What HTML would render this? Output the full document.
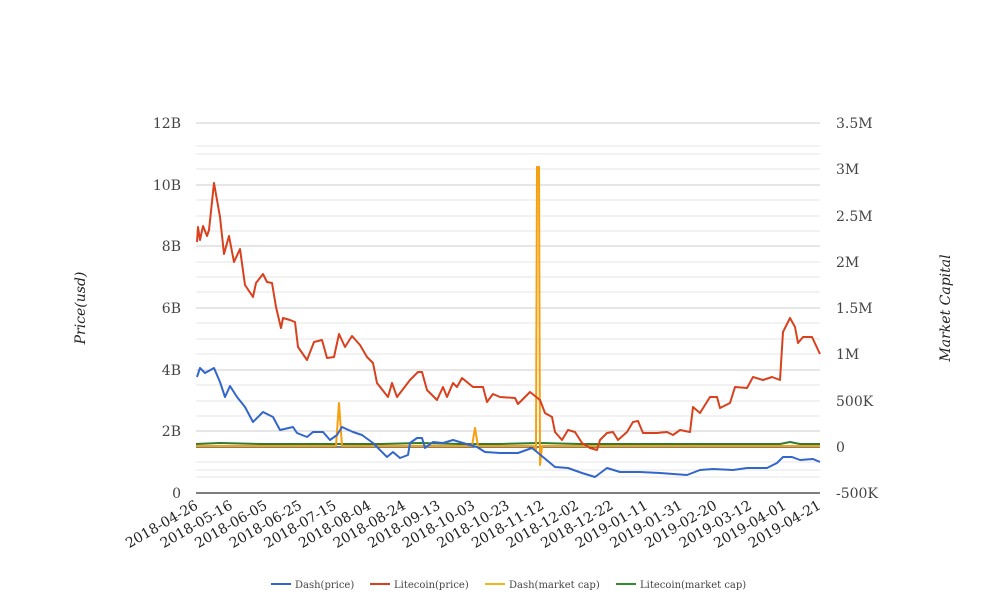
<!DOCTYPE html>
<html><head><meta charset="utf-8"><style>
html,body{margin:0;padding:0;background:#fff;}
svg{display:block;font-family:"DejaVu Serif","Liberation Serif",serif;}
</style></head><body>
<svg width="1008" height="616" viewBox="0 0 1008 616" xmlns="http://www.w3.org/2000/svg">
<g stroke="#ccc" stroke-width="1">
<line x1="196" x2="820" y1="123" y2="123"/><line x1="196" x2="820" y1="185" y2="185"/><line x1="196" x2="820" y1="246" y2="246"/><line x1="196" x2="820" y1="308" y2="308"/><line x1="196" x2="820" y1="370" y2="370"/><line x1="196" x2="820" y1="431" y2="431"/>
</g>
<g stroke="#e6e6e6" stroke-width="1">
<line x1="196" x2="820" y1="146" y2="146"/><line x1="196" x2="820" y1="154" y2="154"/><line x1="196" x2="820" y1="169" y2="169"/><line x1="196" x2="820" y1="216" y2="216"/><line x1="196" x2="820" y1="200" y2="200"/><line x1="196" x2="820" y1="231" y2="231"/><line x1="196" x2="820" y1="262" y2="262"/><line x1="196" x2="820" y1="277" y2="277"/><line x1="196" x2="820" y1="292" y2="292"/><line x1="196" x2="820" y1="323" y2="323"/><line x1="196" x2="820" y1="339" y2="339"/><line x1="196" x2="820" y1="354" y2="354"/><line x1="196" x2="820" y1="385" y2="385"/><line x1="196" x2="820" y1="401" y2="401"/><line x1="196" x2="820" y1="416" y2="416"/><line x1="196" x2="820" y1="462" y2="462"/><line x1="196" x2="820" y1="470" y2="470"/><line x1="196" x2="820" y1="477" y2="477"/>
</g>
<line x1="196" x2="820" y1="493" y2="493" stroke="#333" stroke-width="1.2"/>
<line x1="196" x2="820" y1="447" y2="447" stroke="#333" stroke-width="1.2"/>
<g font-size="14" fill="#444" text-anchor="end">
<text x="181" y="128">12B</text><text x="181" y="190">10B</text><text x="181" y="251">8B</text><text x="181" y="313">6B</text><text x="181" y="375">4B</text><text x="181" y="436">2B</text><text x="181" y="498">0</text>
</g>
<g font-size="14" fill="#444" text-anchor="start">
<text x="836" y="128">3.5M</text><text x="836" y="174">3M</text><text x="836" y="221">2.5M</text><text x="836" y="267">2M</text><text x="836" y="313">1.5M</text><text x="836" y="359">1M</text><text x="836" y="406">500K</text><text x="836" y="452">0</text><text x="836" y="498">-500K</text>
</g>
<text transform="translate(85,308) rotate(-90)" text-anchor="middle" font-size="14" font-style="italic" fill="#222">Price(usd)</text>
<text transform="translate(950,308) rotate(-90)" text-anchor="middle" font-size="14" font-style="italic" fill="#222">Market Capital</text>
<g font-size="14" fill="#222" text-anchor="end">
<text transform="translate(199,508) rotate(-30)">2018-04-26</text>
<text transform="translate(233.6,508) rotate(-30)">2018-05-16</text>
<text transform="translate(268.2,508) rotate(-30)">2018-06-05</text>
<text transform="translate(302.8,508) rotate(-30)">2018-06-25</text>
<text transform="translate(337.4,508) rotate(-30)">2018-07-15</text>
<text transform="translate(372,508) rotate(-30)">2018-08-04</text>
<text transform="translate(406.6,508) rotate(-30)">2018-08-24</text>
<text transform="translate(441.2,508) rotate(-30)">2018-09-13</text>
<text transform="translate(475.8,508) rotate(-30)">2018-10-03</text>
<text transform="translate(510.4,508) rotate(-30)">2018-10-23</text>
<text transform="translate(545,508) rotate(-30)">2018-11-12</text>
<text transform="translate(579.6,508) rotate(-30)">2018-12-02</text>
<text transform="translate(614.2,508) rotate(-30)">2018-12-22</text>
<text transform="translate(648.8,508) rotate(-30)">2019-01-11</text>
<text transform="translate(683.4,508) rotate(-30)">2019-01-31</text>
<text transform="translate(718,508) rotate(-30)">2019-02-20</text>
<text transform="translate(752.6,508) rotate(-30)">2019-03-12</text>
<text transform="translate(787.2,508) rotate(-30)">2019-04-01</text>
<text transform="translate(821.8,508) rotate(-30)">2019-04-21</text>
</g>
<g fill="none" stroke-width="2" stroke-linejoin="round">
<polyline stroke="#2e7d32" points="196,444 220,443 260,444 300,444 340,444 380,444 420,443 460,444 500,444 540,443 580,444 620,444 660,444 700,444 740,444 780,444 790,442 800,444 820,444"/>
<polyline stroke="#f5a00f" points="196,446 336,446 339,403 342,446 472,446 475,428 478,446 534,446 536,450 537,167 539,167 540,465 542,446 820,446"/>
<polyline stroke="#d9411e" points="197,242 198,227 200,240 203,226 207,236 209,230 214,183 220,217 224,254 229,236 234,262 240,249 245,285 253,297 256,283 263,274 267,282 272,283 276,307 281,328 283,318 290,320 295,322 298,347 307,360 314,342 322,340 327,358 334,357 339,334 345,347 352,336 360,345 367,357 373,363 377,383 388,397 392,383 397,397 410,380 418,372 422,372 427,390 437,400 443,387 447,397 453,383 457,387 462,378 473,387 483,387 487,402 493,394 500,397 515,398 518,404 530,392 540,400 545,413 552,417 555,432 562,440 568,430 575,432 582,443 590,448 597,450 600,440 607,433 613,432 618,440 627,432 633,422 638,421 643,433 657,433 667,432 673,435 680,430 690,432 693,407 700,413 710,397 717,397 720,408 730,403 735,387 747,388 753,377 763,380 772,377 780,380 783,332 790,318 795,327 798,343 803,337 812,337 820,354"/>
<polyline stroke="#3366cc" points="197,377 200,368 205,373 214,368 220,382 225,397 230,386 237,397 245,407 253,422 263,412 273,417 280,430 293,427 297,433 307,437 313,432 323,432 330,440 337,435 342,427 353,432 362,435 373,443 378,448 387,457 393,452 400,458 408,455 410,443 417,438 422,438 425,448 433,442 443,443 453,440 463,443 477,447 485,452 500,453 518,453 532,448 537,452 543,457 555,467 568,468 582,473 595,477 607,468 620,472 640,472 660,473 687,475 700,470 713,469 733,470 747,468 767,468 777,463 783,457 792,457 800,460 813,459 820,462"/>
</g>
<g font-size="10" fill="#444">
<line x1="271" x2="291" y1="584" y2="584" stroke="#3366cc" stroke-width="2"/><text x="295" y="588">Dash(price)</text>
<line x1="370" x2="390" y1="584" y2="584" stroke="#d9411e" stroke-width="2"/><text x="394" y="588">Litecoin(price)</text>
<line x1="485" x2="505" y1="584" y2="584" stroke="#f5b515" stroke-width="2"/><text x="509" y="588">Dash(market cap)</text>
<line x1="616" x2="636" y1="584" y2="584" stroke="#2e8b2e" stroke-width="2"/><text x="640" y="588">Litecoin(market cap)</text>
</g>
</svg>
</body></html>
